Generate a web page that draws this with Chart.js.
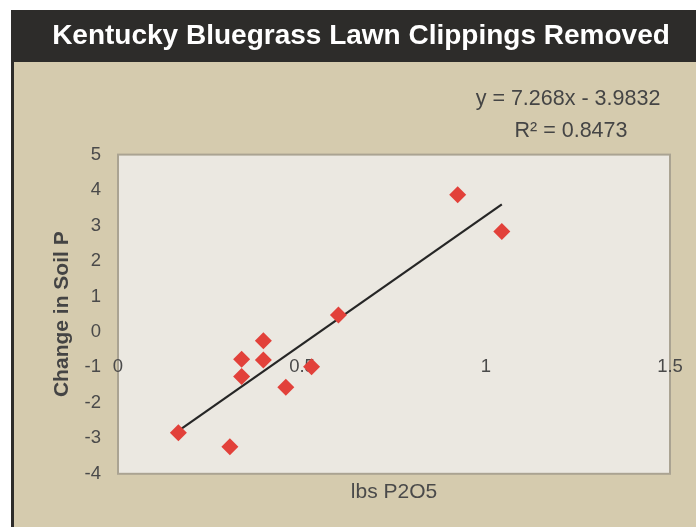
<!DOCTYPE html>
<html>
<head>
<meta charset="utf-8">
<script src="https://cdn.jsdelivr.net/npm/chart.js@4"></script>
<style>
  body { margin: 0; background: #fff; }
</style>
</head>
<body>
<canvas id="cv1" width="696" height="527"></canvas>
<script>
// values
const titleText = 'Kentucky Bluegrass Lawn Clippings Removed';
const xTitle = 'lbs P2O5';
const yTitle = 'Change in Soil P';
const lbsP2O5 = [0.164, 0.304, 0.336, 0.336, 0.395, 0.395, 0.456, 0.526, 0.599, 0.923, 1.043];
const soilP = [-2.84, -3.24, -0.77, -1.26, -0.25, -0.79, -1.56, -0.98, 0.48, 3.87, 2.83];
const slope = 7.268;
const intercept = -3.9832;
const rSquared = 0.8473;
const xTicks = [0, 0.5, 1, 1.5];
const yTicks = [-4, -3, -2, -1, 0, 1, 2, 3, 4, 5];

const points = lbsP2O5.map((x, i) => ({x: x, y: soilP[i]}));
const xMin = Math.min(...lbsP2O5), xMax = Math.max(...lbsP2O5);
const trend = [
  {x: xMin, y: slope * xMin + intercept},
  {x: xMax, y: slope * xMax + intercept}
];

const FONT = '"Liberation Sans", Arial, sans-serif';

function noSidePadding(scale) {
  scale.paddingLeft = 0;
  scale.paddingRight = 0;
}

// frame, title bar, plot area and equation
const framePlugin = {
  id: 'frame',
  beforeDraw(chart) {
    const c = chart.ctx, a = chart.chartArea;
    c.save();
    c.fillStyle = '#ffffff';
    c.fillRect(0, 0, chart.width, chart.height);
    c.fillStyle = '#d5cbae';
    c.fillRect(11, 10, chart.width - 11, chart.height - 10);
    c.fillStyle = '#2d2c2a';
    c.fillRect(11, 10, chart.width - 11, 52);
    c.fillRect(11, 10, 3, chart.height - 10);
    c.fillStyle = '#ebe8e1';
    c.fillRect(a.left, a.top, a.right - a.left, a.bottom - a.top);
    c.strokeStyle = '#aaa392';
    c.lineWidth = 2;
    c.strokeRect(a.left, a.top, a.right - a.left, a.bottom - a.top);
    c.restore();
  },
  afterDraw(chart) {
    const c = chart.ctx, a = chart.chartArea;
    c.save();
    c.fillStyle = '#454545';
    c.font = '21.5px ' + FONT;
    c.textAlign = 'center';
    c.textBaseline = 'middle';
    const sign = intercept < 0 ? ' - ' : ' + ';
    c.fillText('y = ' + slope + 'x' + sign + Math.abs(intercept), a.right - 102, a.top - 56);
    c.fillText('R\u00b2 = ' + rSquared, a.right - 99, a.top - 24);
    c.restore();
  }
};

const ctx = document.getElementById('cv1').getContext('2d');
const chart = new Chart(ctx, {
  type: 'scatter',
  data: {
    datasets: [
      {
        data: points,
        pointStyle: 'rectRot',
        pointRadius: 8.5,
        pointBorderWidth: 0,
        backgroundColor: '#e2413a',
        borderColor: '#e2413a'
      },
      {
        type: 'line',
        data: trend,
        borderColor: '#262626',
        borderWidth: 2.2,
        pointRadius: 0,
        fill: false
      }
    ]
  },
  options: {
    responsive: false,
    animation: false,
    layout: { padding: { left: 52, right: 26, top: 0, bottom: 0 } },
    plugins: {
      legend: { display: false },
      tooltip: { enabled: false },
      title: {
        display: true,
        text: titleText,
        color: '#ffffff',
        font: { family: FONT, size: 28, weight: 'bold' },
        padding: { top: 19, bottom: 102 }
      }
    },
    scales: {
      x: {
        type: 'linear',
        position: { y: 0 },
        min: 0,
        max: 1.5,
        afterFit: noSidePadding,
        afterBuildTicks(scale) { scale.ticks = xTicks.map(v => ({value: v})); },
        ticks: {
          padding: 24,
          color: '#4a4a4a',
          font: { family: FONT, size: 18.5 },
          callback: v => String(v)
        },
        grid: { display: false, drawTicks: false },
        border: { display: false }
      },
      x2: {
        type: 'linear',
        position: 'bottom',
        min: 0,
        max: 1.5,
        afterFit: noSidePadding,
        ticks: { display: false },
        grid: { display: false, drawTicks: false },
        border: { display: false },
        title: {
          display: true,
          text: xTitle,
          color: '#4a4a4a',
          font: { family: FONT, size: 21 },
          padding: { top: 6, bottom: 22 }
        }
      },
      y: {
        type: 'linear',
        min: -4,
        max: 5,
        afterFit(scale) { scale.width = 66; },
        afterBuildTicks(scale) { scale.ticks = yTicks.map(v => ({value: v})); },
        ticks: {
          padding: 17,
          color: '#4a4a4a',
          font: { family: FONT, size: 18.5 }
        },
        grid: { display: false, drawTicks: false },
        border: { display: false },
        title: {
          display: true,
          text: yTitle,
          color: '#444444',
          font: { family: FONT, size: 21, weight: 'bold' },
          padding: { top: -2, bottom: 0 }
        }
      }
    }
  },
  plugins: [framePlugin]
});
</script>
</body>
</html>
